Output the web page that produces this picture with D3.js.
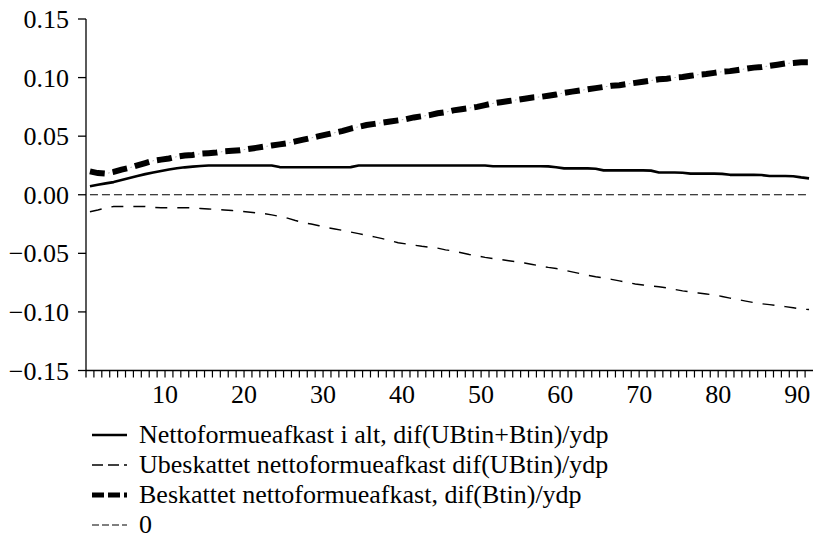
<!DOCTYPE html>
<html><head><meta charset="utf-8">
<script src="https://cdn.jsdelivr.net/npm/d3@7"></script>
<style>
html,body{margin:0;padding:0;background:#fff;}
svg text{font-family:"Liberation Serif" !important;}
</style></head>
<body>
<svg id="chart" width="818" height="538"></svg>
<script>
// observation numbers (1..92), plotted centred in each period slot
const obs = d3.range(1, 93);

const yTicks = [-0.15, -0.10, -0.05, 0.00, 0.05, 0.10, 0.15];
const xLabelTicks = [10, 20, 30, 40, 50, 60, 70, 80, 90];

const seriesNames = [
  "Nettoformueafkast i alt, dif(UBtin+Btin)/ydp",
  "Ubeskattet nettoformueafkast dif(UBtin)/ydp",
  "Beskattet nettoformueafkast, dif(Btin)/ydp",
  "0"
];

const total = [
  0.0072,0.0085,0.0097,0.0108,0.0125,0.0143,0.0160,0.0176,0.0190,0.0203,
  0.0215,0.0226,0.0234,0.0240,0.0245,0.0250,0.0250,0.0250,0.0250,0.0250,
  0.0250,0.0250,0.0250,0.0250,0.0236,0.0235,0.0235,0.0235,0.0235,0.0235,
  0.0235,0.0235,0.0235,0.0236,0.0249,0.0250,0.0250,0.0250,0.0250,0.0250,
  0.0250,0.0250,0.0250,0.0250,0.0250,0.0250,0.0250,0.0250,0.0250,0.0250,
  0.0249,0.0243,0.0243,0.0243,0.0243,0.0243,0.0243,0.0243,0.0242,0.0235,
  0.0225,0.0225,0.0225,0.0225,0.0222,0.0208,0.0208,0.0208,0.0208,0.0208,
  0.0208,0.0206,0.0190,0.0190,0.0190,0.0188,0.0180,0.0180,0.0180,0.0180,
  0.0178,0.0170,0.0170,0.0170,0.0170,0.0168,0.0160,0.0160,0.0160,0.0158,
  0.0148,0.0140
];

const untaxed = [
  -0.0145,-0.0130,-0.0112,-0.0100,-0.0100,-0.0100,-0.0100,-0.0100,-0.0108,-0.0111,
  -0.0111,-0.0111,-0.0111,-0.0112,-0.0117,-0.0121,-0.0125,-0.0130,-0.0135,-0.0140,
  -0.0147,-0.0154,-0.0160,-0.0172,-0.0185,-0.0200,-0.0220,-0.0238,-0.0250,-0.0265,
  -0.0280,-0.0292,-0.0305,-0.0318,-0.0332,-0.0346,-0.0360,-0.0375,-0.0390,-0.0410,
  -0.0420,-0.0430,-0.0440,-0.0448,-0.0456,-0.0470,-0.0480,-0.0495,-0.0510,-0.0520,
  -0.0535,-0.0545,-0.0553,-0.0563,-0.0572,-0.0582,-0.0595,-0.0608,-0.0620,-0.0630,
  -0.0643,-0.0658,-0.0673,-0.0688,-0.0700,-0.0710,-0.0722,-0.0735,-0.0748,-0.0762,
  -0.0770,-0.0778,-0.0785,-0.0795,-0.0808,-0.0820,-0.0830,-0.0838,-0.0847,-0.0855,
  -0.0868,-0.0882,-0.0895,-0.0908,-0.0920,-0.0930,-0.0938,-0.0946,-0.0955,-0.0965,
  -0.0975,-0.0980
];

const taxed = [
  0.0200,0.0185,0.0180,0.0195,0.0215,0.0230,0.0250,0.0270,0.0290,0.0300,
  0.0310,0.0325,0.0335,0.0340,0.0350,0.0355,0.0360,0.0370,0.0375,0.0380,
  0.0390,0.0400,0.0410,0.0420,0.0430,0.0440,0.0455,0.0470,0.0485,0.0500,
  0.0515,0.0530,0.0545,0.0565,0.0580,0.0595,0.0605,0.0615,0.0625,0.0635,
  0.0645,0.0660,0.0670,0.0680,0.0695,0.0705,0.0720,0.0730,0.0740,0.0750,
  0.0765,0.0780,0.0790,0.0800,0.0810,0.0820,0.0830,0.0835,0.0845,0.0855,
  0.0870,0.0880,0.0890,0.0900,0.0910,0.0920,0.0930,0.0935,0.0945,0.0955,
  0.0965,0.0975,0.0985,0.0990,0.1000,0.1005,0.1015,0.1025,0.1030,0.1040,
  0.1050,0.1055,0.1065,0.1075,0.1085,0.1090,0.1100,0.1110,0.1120,0.1125,
  0.1130,0.1130
];

const zeroLine = obs.map(() => 0);

const FONT = "Liberation Serif";
const svg = d3.select("#chart");
const x = d3.scaleLinear().domain([0, 92]).range([86, 813]);
const y = d3.scaleLinear().domain([-0.15, 0.15]).range([370.5, 19]);

// y axis (labels drawn as plain text elements)
const gy = svg.append("g");
gy.append("line").attr("x1", 86).attr("x2", 86).attr("y1", y(0.15)).attr("y2", y(-0.15) + 7)
  .attr("stroke", "#000").attr("stroke-width", 1.3);
gy.selectAll("line.tick").data(yTicks).join("line").attr("class", "tick")
  .attr("x1", 78).attr("x2", 86).attr("y1", d => y(d)).attr("y2", d => y(d))
  .attr("stroke", "#000").attr("stroke-width", 1.3);
gy.selectAll("text").data(yTicks).join("text")
  .attr("x", 69).attr("y", d => y(d) + 9).attr("text-anchor", "end")
  .attr("font-family", FONT).attr("font-size", 26).attr("fill", "#000")
  .text(d => d3.format(".2f")(d));

// x axis
const gx = svg.append("g");
gx.append("line").attr("x1", 86).attr("x2", 813).attr("y1", y(-0.15)).attr("y2", y(-0.15))
  .attr("stroke", "#000").attr("stroke-width", 1.3);
gx.selectAll("line.tick").data(obs.slice(0, 91)).join("line").attr("class", "tick")
  .attr("x1", d => x(d)).attr("x2", d => x(d)).attr("y1", y(-0.15)).attr("y2", y(-0.15) + 7)
  .attr("stroke", "#000").attr("stroke-width", 1.2);
gx.selectAll("text").data(xLabelTicks).join("text")
  .attr("x", d => x(d)).attr("y", 403).attr("text-anchor", "middle")
  .attr("font-family", FONT).attr("font-size", 26).attr("fill", "#000")
  .text(d => String(d));

const px = i => x(obs[i] - 0.5);
const line = arr => d3.line().x((d, i) => px(i)).y(d => y(d))(arr);

// zero line
svg.append("path").attr("d", line(zeroLine)).attr("fill", "none")
  .attr("stroke", "#000").attr("stroke-width", 1.1).attr("stroke-dasharray", "8,4");

// untaxed
svg.append("path").attr("d", line(untaxed)).attr("fill", "none")
  .attr("stroke", "#000").attr("stroke-width", 1.4).attr("stroke-dasharray", "12,10");

// total
svg.append("path").attr("d", line(total)).attr("fill", "none")
  .attr("stroke", "#000").attr("stroke-width", 2.6).attr("stroke-linejoin", "round");

// taxed (thick dashed with faint marks in the gaps)
svg.append("path").attr("d", line(taxed)).attr("fill", "none")
  .attr("stroke", "#aaa").attr("stroke-width", 1).attr("stroke-dasharray", "1.5,21.5")
  .attr("stroke-dashoffset", "-18.5");
svg.append("path").attr("d", line(taxed)).attr("fill", "none")
  .attr("stroke", "#000").attr("stroke-width", 6).attr("stroke-dasharray", "15,8");

// legend
const legendRows = [
  {name: seriesNames[0], w: 2.6, dash: null},
  {name: seriesNames[1], w: 1.4, dash: "11,5"},
  {name: seriesNames[2], w: 5, dash: "12,4"},
  {name: seriesNames[3], w: 1.1, dash: "7,3"}
];
const baselines = [443, 473, 503, 533];
legendRows.forEach((r, i) => {
  const ly = baselines[i] - 8;
  const l = svg.append("line").attr("x1", 92).attr("x2", 127).attr("y1", ly).attr("y2", ly)
    .attr("stroke", "#000").attr("stroke-width", r.w);
  if (r.dash) l.attr("stroke-dasharray", r.dash);
  svg.append("text").attr("x", 139).attr("y", baselines[i])
    .attr("font-family", FONT).attr("font-size", 26).attr("fill", "#000").text(r.name);
});
</script>
</body></html>
